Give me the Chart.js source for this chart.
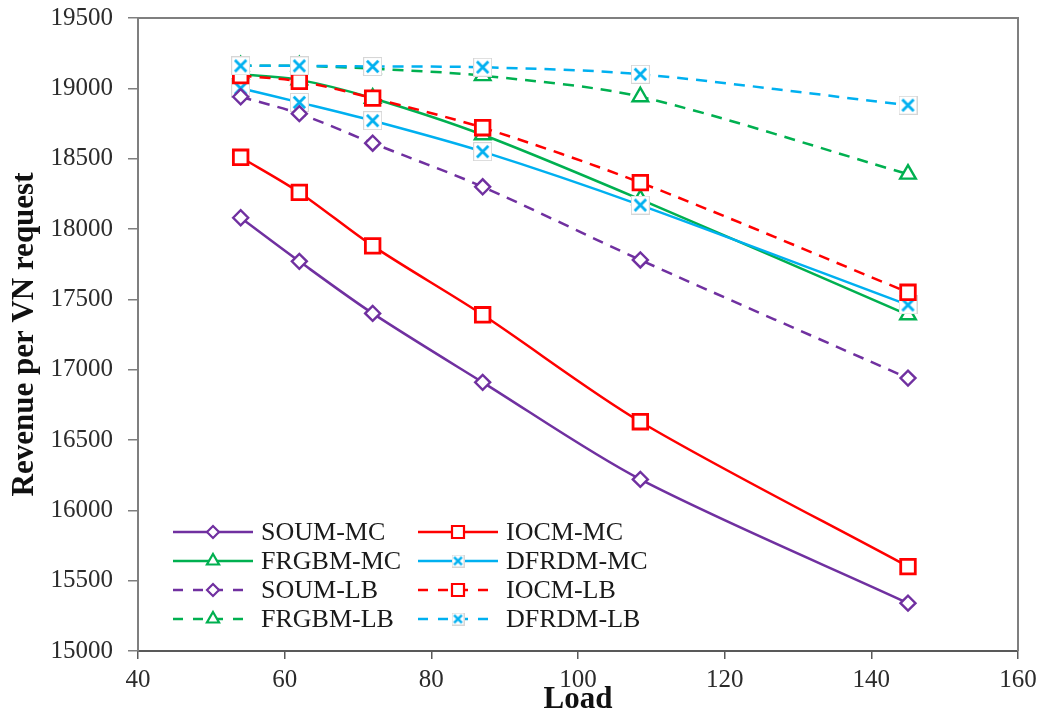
<!DOCTYPE html>
<html>
<head>
<meta charset="utf-8">
<script src="https://cdn.jsdelivr.net/npm/chart.js@4/dist/chart.umd.min.js"></script>
<style>
  html, body { margin: 0; padding: 0; background: #fff; }
  #wrap { width: 1045px; height: 716px; position: relative; }
</style>
</head>
<body>
<div id="wrap"><canvas id="c" width="1045" height="716"></canvas></div>
<script>
// ---- data ----
const loads = [54, 62, 72, 87, 108.5, 145];
const soumMC  = [18080, 17770, 17400, 16910, 16220, 15340];
const iocmMC  = [18510, 18260, 17880, 17390, 16630, 15600];
const frgbmMC = [19100, 19060, 18930, 18670, 18210, 17390];
const dfrdmMC = [19000, 18900, 18770, 18550, 18170, 17460];
const soumLB  = [18940, 18820, 18610, 18300, 17780, 16940];
const iocmLB  = [19090, 19050, 18930, 18720, 18330, 17550];
const frgbmLB = [19160, 19160, 19140, 19090, 18940, 18390];
const dfrdmLB = [19160, 19160, 19155, 19150, 19100, 18880];
const seriesNames = ['SOUM-MC','IOCM-MC','FRGBM-MC','DFRDM-MC','SOUM-LB','IOCM-LB','FRGBM-LB','DFRDM-LB'];
const seriesValues = [soumMC, iocmMC, frgbmMC, dfrdmMC, soumLB, iocmLB, frgbmLB, dfrdmLB];
const xTicks = [40, 60, 80, 100, 120, 140, 160];
const yTicks = [15000, 15500, 16000, 16500, 17000, 17500, 18000, 18500, 19000, 19500];

// ---- styles ----
const PURPLE = '#7030A0', RED = '#FF0000', GREEN = '#00B050', BLUE = '#00B0F0';
const colors  = [PURPLE, RED, GREEN, BLUE, PURPLE, RED, GREEN, BLUE];
const markers = ['diamond','square','triangle','x','diamond','square','triangle','x'];
const dashed  = [false,false,false,false,true,true,true,true];
const DASH = [11, 8];

function makeX(size, color, lw) {
  const c = document.createElement('canvas');
  c.width = size; c.height = size;
  const g = c.getContext('2d');
  g.fillStyle = '#fff'; g.fillRect(0, 0, size, size);
  g.strokeStyle = '#d6d6d6'; g.lineWidth = 1; g.strokeRect(0.5, 0.5, size - 1, size - 1);
  g.strokeStyle = color; g.lineWidth = lw;
  const p = size * 0.2;
  g.beginPath();
  g.moveTo(p, p); g.lineTo(size - p, size - p);
  g.moveTo(size - p, p); g.lineTo(p, size - p);
  g.stroke();
  return c;
}
const xImg = makeX(19, BLUE, 2.8);

function pointStyleFor(m) {
  if (m === 'diamond') return 'rectRot';
  if (m === 'square') return 'rect';
  if (m === 'triangle') return 'triangle';
  return xImg;
}
function radiusFor(m) {
  if (m === 'diamond') return 7.5;
  if (m === 'square') return 10.3;
  if (m === 'triangle') return 9;
  return 9;
}

const datasets = seriesNames.map((name, i) => ({
  label: name,
  data: loads.map((x, j) => ({ x: x, y: seriesValues[i][j] })),
  borderColor: colors[i],
  backgroundColor: colors[i],
  borderWidth: 2.5,
  borderDash: dashed[i] ? DASH : [],
  tension: 0.3,
  pointStyle: pointStyleFor(markers[i]),
  pointRadius: radiusFor(markers[i]),
  pointBorderColor: colors[i],
  pointBackgroundColor: '#fff',
  pointBorderWidth: markers[i] === 'square' ? 2.8 : 2.4,
  order: seriesNames.length - i
}));

// legend drawn inside plot area
function drawLegendMarker(ctx, m, x, y, color) {
  ctx.save();
  ctx.setLineDash([]);
  ctx.strokeStyle = color; ctx.fillStyle = '#fff';
  ctx.lineWidth = 2.2;
  ctx.beginPath();
  if (m === 'diamond') {
    const r = 6;
    ctx.moveTo(x - r, y); ctx.lineTo(x, y - r); ctx.lineTo(x + r, y); ctx.lineTo(x, y + r); ctx.closePath();
    ctx.fill(); ctx.stroke();
  } else if (m === 'square') {
    const s = 6;
    ctx.rect(x - s, y - s, 2 * s, 2 * s);
    ctx.fill(); ctx.stroke();
  } else if (m === 'triangle') {
    const r = 7;
    ctx.moveTo(x, y - r); ctx.lineTo(x + r * 0.866, y + r * 0.5); ctx.lineTo(x - r * 0.866, y + r * 0.5); ctx.closePath();
    ctx.fill(); ctx.stroke();
  } else {
    ctx.drawImage(makeX(13, color, 2.4), x - 6.5, y - 6.5);
  }
  ctx.restore();
}

const legendPlugin = {
  id: 'inLegend',
  afterDatasetsDraw(chart) {
    const ctx = chart.ctx;
    const colX = [173, 418];
    const textX = [261, 506];
    const rowY = [532, 561, 590, 619];
    chart.data.datasets.forEach((ds, i) => {
      const row = Math.floor(i / 2), col = i % 2;
      const x0 = colX[col], y = rowY[row];
      ctx.save();
      ctx.strokeStyle = colors[i];
      ctx.lineWidth = 2.5;
      ctx.setLineDash(dashed[i] ? [10, 10] : []);
      ctx.beginPath(); ctx.moveTo(x0, y); ctx.lineTo(x0 + 80, y); ctx.stroke();
      ctx.restore();
      drawLegendMarker(ctx, markers[i], x0 + 40, y, colors[i]);
      ctx.save();
      ctx.fillStyle = '#1a1a1a';
      ctx.font = '26px "Liberation Serif", "Times New Roman", serif';
      ctx.textBaseline = 'middle';
      ctx.textAlign = 'left';
      ctx.fillText(ds.label, textX[col], y + 1);
      ctx.restore();
    });
  }
};

const framePlugin = {
  id: 'frame',
  afterDraw(chart) {
    const { ctx, chartArea: a } = chart;
    ctx.save();
    ctx.strokeStyle = '#7f7f7f';
    ctx.lineWidth = 2;
    ctx.beginPath();
    ctx.moveTo(a.left, a.top); ctx.lineTo(a.right, a.top); ctx.lineTo(a.right, a.bottom);
    ctx.stroke();
    ctx.restore();
  }
};

const tickFont = { family: '"Liberation Serif", "Times New Roman", serif', size: 25 };

new Chart(document.getElementById('c'), {
  type: 'line',
  data: { datasets: datasets },
  options: {
    responsive: false,
    animation: false,
    events: [],
    layout: { padding: { top: 18, right: 27, left: 0, bottom: 0 } },
    plugins: { legend: { display: false }, tooltip: { enabled: false } },
    scales: {
      x: {
        type: 'linear',
        min: xTicks[0], max: xTicks[xTicks.length - 1],
        afterBuildTicks(s) { s.ticks = xTicks.map(v => ({ value: v })); },
        afterFit(s) { s.height = 65; s.paddingLeft = 0; s.paddingRight = 0; },
        ticks: { font: tickFont, color: '#2b2b2b', padding: 6, callback: v => String(v), maxRotation: 0 },
        grid: { drawOnChartArea: false, drawTicks: true, tickLength: 8, color: '#595959', lineWidth: 1.5 },
        border: { display: true, color: '#595959', width: 2 },
        title: { display: true, text: 'Load', color: '#111',
                 font: { family: '"Liberation Serif", "Times New Roman", serif', size: 31, weight: 'bold', lineHeight: 1.0 },
                 padding: { top: 0, bottom: 1 } }
      },
      y: {
        type: 'linear',
        min: yTicks[0], max: yTicks[yTicks.length - 1],
        afterBuildTicks(s) { s.ticks = yTicks.map(v => ({ value: v })); },
        afterFit(s) { s.width = 138; s.paddingTop = 0; s.paddingBottom = 0; },
        ticks: { font: tickFont, color: '#2b2b2b', padding: 15, callback: v => String(v) },
        grid: { drawOnChartArea: false, drawTicks: true, tickLength: 10, color: '#7f7f7f', lineWidth: 1.5 },
        border: { display: true, color: '#7f7f7f', width: 2 },
        title: { display: true, text: 'Revenue per VN request', color: '#111',
                 font: { family: '"Liberation Serif", "Times New Roman", serif', size: 31, weight: 'bold', lineHeight: 1.2 },
                 padding: { top: 6, bottom: 0 } }
      }
    }
  },
  plugins: [legendPlugin, framePlugin]
});
</script>
</body>
</html>
